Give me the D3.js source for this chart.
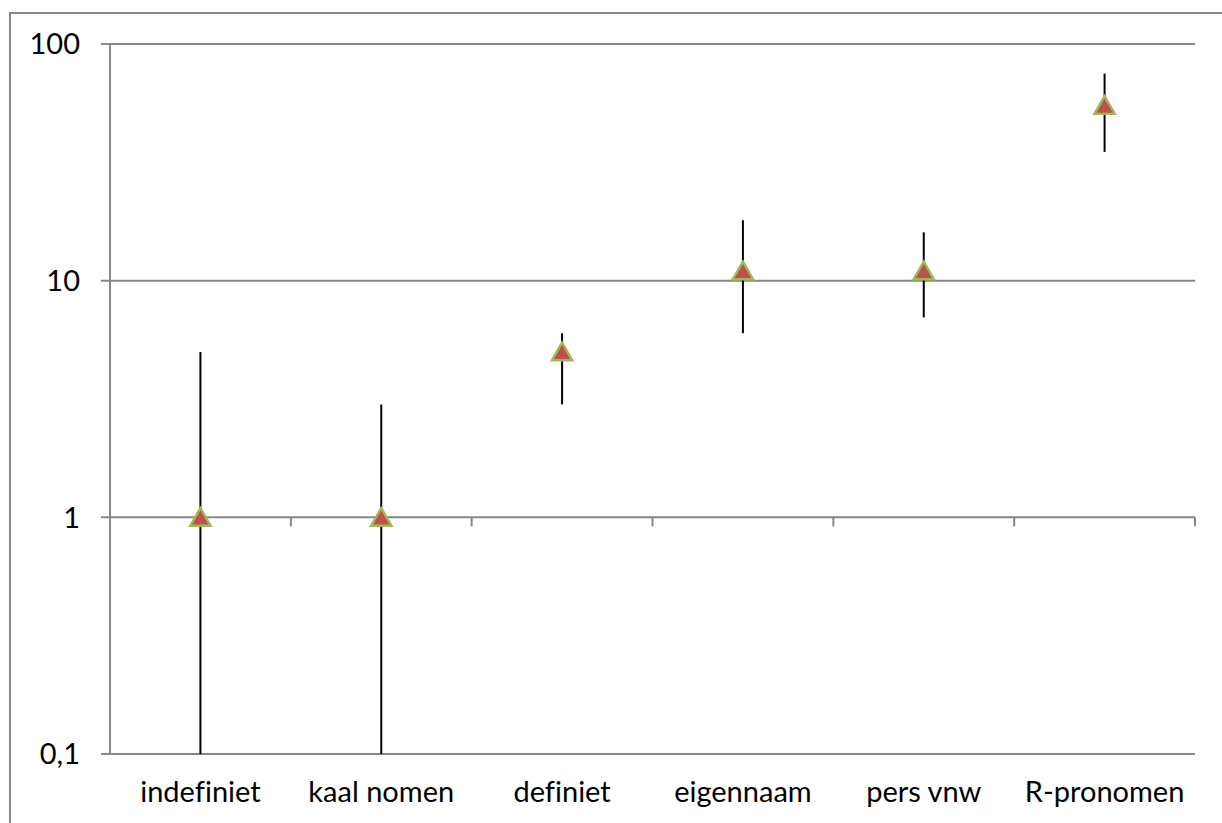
<!DOCTYPE html>
<html><head><meta charset="utf-8">
<script src="https://cdn.jsdelivr.net/npm/d3@7/dist/d3.min.js"></script>
<style>body{margin:0;background:#fff}svg{display:block}text{font-variant-ligatures:none}</style>
</head><body>
<svg id="c" width="1222" height="823"></svg>
<script>
const categories = ["indefiniet","kaal nomen","definiet","eigennaam","pers vnw","R-pronomen"];
const values = [1, 1, 5, 11, 11, 55];
const highs  = [5, 3, 6, 18, 16, 75];
const lows   = [0.1, 0.1, 3, 6, 7, 35];
const yTicks = [0.1, 1, 10, 100];
const yTickLabels = ["0,1", "1", "10", "100"];

const svg = d3.select("#c");
const font = "Lato, 'Open Sans', sans-serif";
const grid = "#878787";

// outer border
svg.append("rect").attr("x",10).attr("y",13).attr("width",1260).attr("height",900)
  .attr("fill","none").attr("stroke",grid).attr("stroke-width",2);

const x = d3.scaleBand().domain(categories).range([110,1195]).padding(0);
const y = d3.scaleLog().domain([0.1,100]).range([754,44]);

// gridlines (0.1, 10, 100) and the category axis at 1
const gy = svg.append("g");
yTicks.forEach(t => {
  gy.append("line").attr("x1",101).attr("x2",1195).attr("y1",y(t)).attr("y2",y(t))
    .attr("stroke",grid).attr("stroke-width",2);
});
// y axis line
svg.append("line").attr("x1",110).attr("x2",110).attr("y1",y(100)).attr("y2",y(0.1))
  .attr("stroke",grid).attr("stroke-width",2);

// category ticks on the line at 1
const bounds = categories.map(c => x(c)).concat([x.range()[1]]);
bounds.slice(1).forEach(b => {
  svg.append("line").attr("x1",b).attr("x2",b).attr("y1",y(1)).attr("y2",y(1)+9)
    .attr("stroke",grid).attr("stroke-width",2);
});

// y labels
yTicks.forEach((t,i) => {
  svg.append("text").attr("x",80).attr("y",y(t)).attr("dy","0.36em")
    .attr("text-anchor","end").attr("font-family",font).attr("font-size",29)
    .attr("fill","#000").text(yTickLabels[i]);
});

// x labels
categories.forEach(c => {
  svg.append("text").attr("x",x(c)+x.bandwidth()/2).attr("y",802)
    .attr("text-anchor","middle").attr("font-family",font).attr("font-size",29)
    .attr("fill","#000").text(c);
});

// error bars
categories.forEach((c,i) => {
  const cx = x(c)+x.bandwidth()/2;
  svg.append("line").attr("x1",cx).attr("x2",cx).attr("y1",y(highs[i])).attr("y2",y(lows[i]))
    .attr("stroke","#000").attr("stroke-width",2);
});

// triangle markers
const tri = d3.symbol().type(d3.symbolTriangle).size(180);
categories.forEach((c,i) => {
  const cx = x(c)+x.bandwidth()/2;
  svg.append("path").attr("d",tri()).attr("transform",`translate(${cx},${y(values[i])+2.5})`)
    .attr("fill","#C0504D").attr("stroke","#9BBB59").attr("stroke-width",2.4);
});
</script>
</body></html>
